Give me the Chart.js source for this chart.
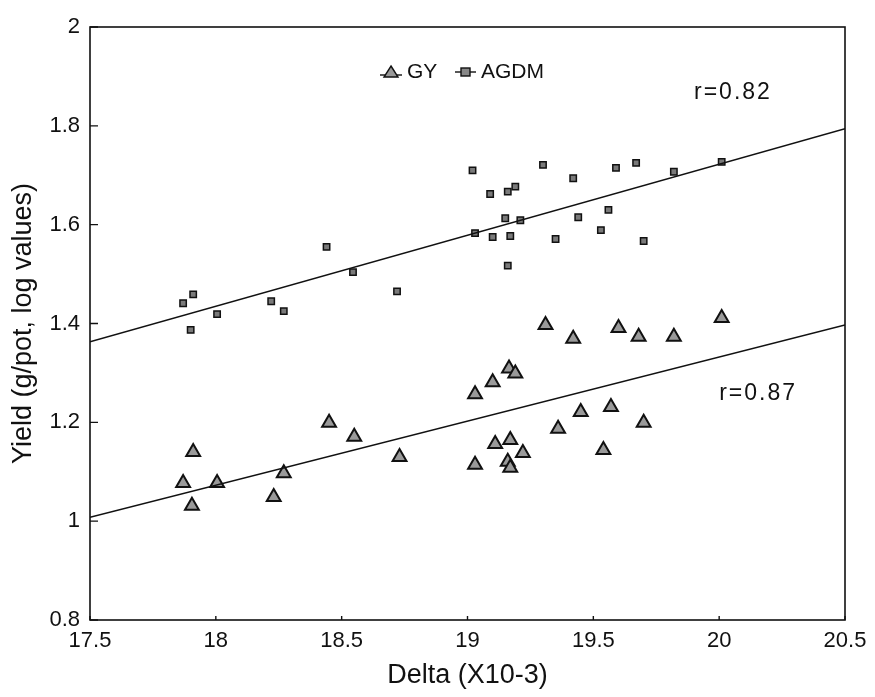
<!DOCTYPE html>
<html>
<head>
<meta charset="utf-8">
<script src="https://cdn.jsdelivr.net/npm/chart.js@4.4.0/dist/chart.umd.min.js"></script>
<style>
  body { margin: 0; background: #fff; }
  #wrap { width: 875px; height: 697px; }
</style>
</head>
<body>
<div id="wrap"><canvas id="myScatter"></canvas></div>
<script>
// data
const xTicks = [17.5, 18, 18.5, 19, 19.5, 20, 20.5];
const yTicks = [0.8, 1, 1.2, 1.4, 1.6, 1.8, 2];

const gyDelta = [17.87, 17.905, 17.91, 18.005, 18.23, 18.27, 18.45, 18.55, 18.73, 19.03,
                 19.03, 19.10, 19.11, 19.16, 19.165, 19.17, 19.17, 19.19, 19.22, 19.31,
                 19.36, 19.42, 19.45, 19.54, 19.57, 19.60, 19.68, 19.70, 19.82, 20.01];
const gyYield = [1.077, 1.031, 1.140, 1.077, 1.049, 1.097, 1.199, 1.171, 1.130, 1.257,
                 1.114, 1.281, 1.156, 1.120, 1.309, 1.164, 1.108, 1.299, 1.138, 1.397,
                 1.187, 1.369, 1.221, 1.144, 1.231, 1.391, 1.373, 1.199, 1.373, 1.411];

const agdmDelta = [17.87, 17.90, 17.91, 18.005, 18.22, 18.27, 18.44, 18.545, 18.72, 19.02,
                   19.03, 19.09, 19.10, 19.15, 19.16, 19.16, 19.17, 19.19, 19.21, 19.30,
                   19.35, 19.42, 19.44, 19.53, 19.56, 19.59, 19.67, 19.70, 19.82, 20.01];
const agdmYield = [1.441, 1.387, 1.459, 1.419, 1.445, 1.425, 1.555, 1.504, 1.465, 1.710,
                   1.583, 1.662, 1.575, 1.613, 1.667, 1.517, 1.577, 1.677, 1.609, 1.721,
                   1.571, 1.694, 1.615, 1.589, 1.630, 1.715, 1.725, 1.567, 1.707, 1.727];

// regression lines as drawn (ends at the axis limits)
const fitDelta = [17.5, 20.5];
const gyFit = [1.008, 1.397];
const agdmFit = [1.363, 1.794];

const seriesNames = ['GY', 'AGDM'];
const rLabels = ['r=0.87', 'r=0.82'];

const FONT = "'Liberation Sans', Arial, sans-serif";

function pts(xs, ys) {
    return xs.map((x, i) => ({ x: x, y: ys[i] }));
}

// box, inward ticks, legend and r values
const decorations = {
    id: 'decorations',
    afterDraw(chart) {
        const ctx = chart.ctx;
        const a = chart.chartArea;
        const xs = chart.scales.x;
        const ys = chart.scales.y;
        ctx.save();
        ctx.strokeStyle = '#111';
        ctx.lineWidth = 1.6;
        ctx.strokeRect(a.left, a.top, a.right - a.left, a.bottom - a.top);

        ctx.lineWidth = 1.4;
        ctx.beginPath();
        yTicks.forEach(v => {
            const py = ys.getPixelForValue(v);
            ctx.moveTo(a.left, py);
            ctx.lineTo(a.left + 8, py);
        });
        xTicks.forEach(v => {
            const px = xs.getPixelForValue(v);
            ctx.moveTo(px, a.bottom);
            ctx.lineTo(px, a.bottom - 4);
        });
        ctx.stroke();

        // legend
        ctx.font = '21px ' + FONT;
        ctx.fillStyle = '#111';
        ctx.textBaseline = 'middle';
        ctx.textAlign = 'left';
        const ly = 72;
        // GY symbol
        ctx.beginPath();
        ctx.moveTo(380, ly + 3); ctx.lineTo(402, ly + 3);
        ctx.stroke();
        ctx.beginPath();
        ctx.moveTo(391, ly - 6); ctx.lineTo(398, ly + 5); ctx.lineTo(384, ly + 5); ctx.closePath();
        ctx.fillStyle = '#999'; ctx.fill(); ctx.stroke();
        ctx.fillStyle = '#111';
        ctx.fillText(seriesNames[0], 407, ly);
        // AGDM symbol
        ctx.beginPath();
        ctx.moveTo(455, ly); ctx.lineTo(476, ly);
        ctx.stroke();
        ctx.fillStyle = '#888';
        ctx.fillRect(461, ly - 4, 9, 8);
        ctx.strokeRect(461, ly - 4, 9, 8);
        ctx.fillStyle = '#111';
        ctx.fillText(seriesNames[1], 481, ly);

        ctx.font = '23px ' + FONT;
        ctx.letterSpacing = '2px';
        ctx.fillText(rLabels[1], xs.getPixelForValue(19.9), ys.getPixelForValue(1.867));
        ctx.fillText(rLabels[0], xs.getPixelForValue(20.0), ys.getPixelForValue(1.258));
        ctx.restore();
    }
};

const ctx = document.getElementById('myScatter').getContext('2d');
const myScatter = new Chart(ctx, {
    type: 'scatter',
    data: {
        datasets: [
            {
                label: seriesNames[1] + ' fit',
                type: 'line',
                data: pts(fitDelta, agdmFit),
                borderColor: '#111',
                borderWidth: 1.5,
                pointRadius: 0,
                fill: false
            },
            {
                label: seriesNames[0] + ' fit',
                type: 'line',
                data: pts(fitDelta, gyFit),
                borderColor: '#111',
                borderWidth: 1.5,
                pointRadius: 0,
                fill: false
            },
            {
                label: seriesNames[1],
                data: pts(agdmDelta, agdmYield),
                pointStyle: 'rect',
                pointRadius: 4.5,
                backgroundColor: '#7a7a7a',
                borderColor: '#111',
                borderWidth: 1.5
            },
            {
                label: seriesNames[0],
                data: pts(gyDelta, gyYield),
                pointStyle: 'triangle',
                pointRadius: 8,
                backgroundColor: '#9a9a9a',
                borderColor: '#111',
                borderWidth: 2
            }
        ]
    },
    options: {
        responsive: true,
        maintainAspectRatio: false,
        animation: false,
        devicePixelRatio: 1,
        layout: { padding: { top: 27, right: 30, left: 0, bottom: 0 } },
        plugins: {
            legend: { display: false },
            tooltip: { enabled: false }
        },
        scales: {
            x: {
                type: 'linear',
                min: 17.5,
                max: 20.5,
                afterBuildTicks: s => { s.ticks = xTicks.map(v => ({ value: v })); },
                afterFit: s => { s.height = 77; },
                grid: { display: false, drawTicks: false },
                border: { display: false },
                ticks: {
                    padding: 8,
                    color: '#111',
                    font: { family: FONT, size: 22 },
                    callback: v => String(v)
                },
                title: {
                    display: true,
                    text: 'Delta (X10-3)',
                    color: '#111',
                    font: { family: FONT, size: 27 },
                    padding: { top: 0, bottom: 5 }
                }
            },
            y: {
                type: 'linear',
                min: 0.8,
                max: 2,
                afterBuildTicks: s => { s.ticks = yTicks.map(v => ({ value: v })); },
                afterFit: s => { s.width = 90; },
                grid: { display: false, drawTicks: false },
                border: { display: false },
                ticks: {
                    padding: 10,
                    color: '#111',
                    font: { family: FONT, size: 22 },
                    callback: v => String(v)
                },
                title: {
                    display: true,
                    text: 'Yield (g/pot, log values)',
                    color: '#111',
                    font: { family: FONT, size: 27 },
                    padding: { top: 7, bottom: 0 }
                }
            }
        }
    },
    plugins: [decorations]
});
</script>
</body>
</html>
